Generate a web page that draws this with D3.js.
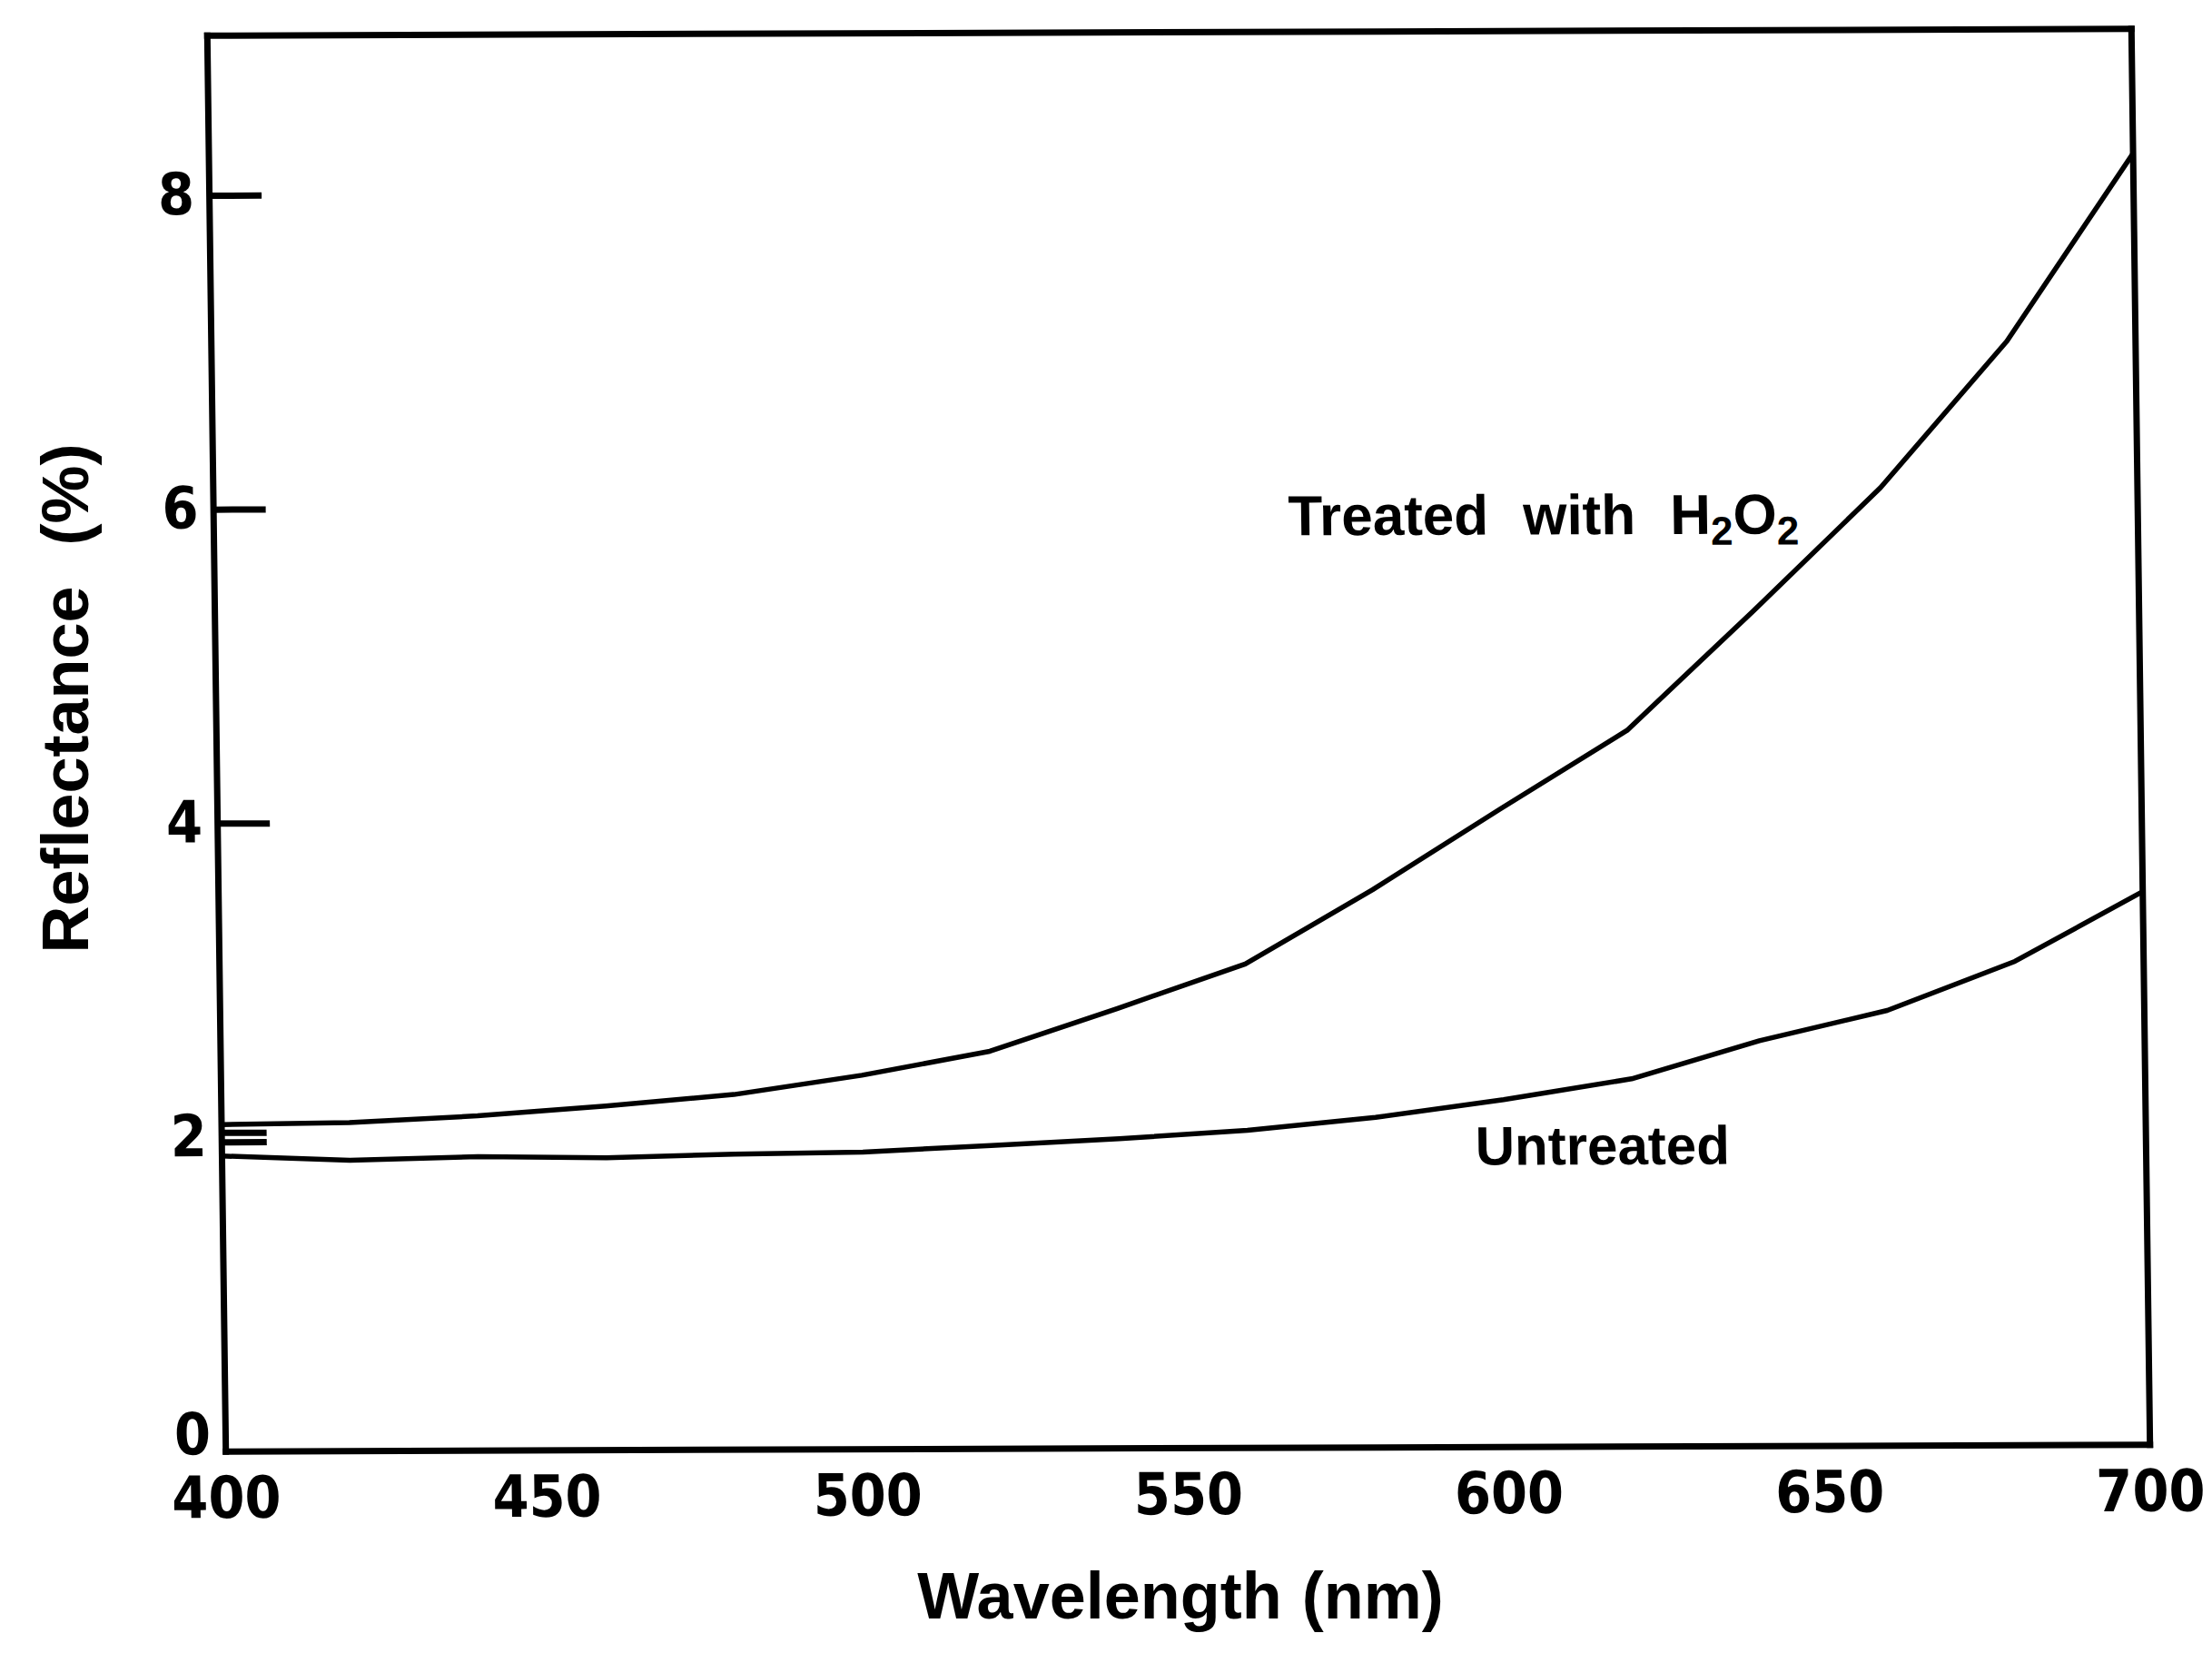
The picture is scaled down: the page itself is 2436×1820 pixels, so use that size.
<!DOCTYPE html>
<html>
<head>
<meta charset="utf-8">
<script src="https://cdn.jsdelivr.net/npm/d3@7"></script>
<style>
  html, body { margin: 0; padding: 0; background: #fff; }
  svg { display: block; }
  .tick text {
    font-family: "Liberation Sans Narrow", "DejaVu Sans Condensed", "Liberation Sans", sans-serif;
    font-weight: bold;
    fill: #000;
  }
  .label {
    font-family: "Liberation Sans", Arial, sans-serif;
    font-weight: bold;
    fill: #000;
  }
</style>
</head>
<body>
<div id="chart"></div>
<script>
// wavelength (nm) of each reading
const wavelengths = [400, 420, 440, 460, 480, 500, 520, 540, 560, 580, 600, 620, 640, 660, 680, 700];
// reflectance (%)
const treatedH2O2 = [2.08, 2.09, 2.13, 2.19, 2.26, 2.38, 2.53, 2.80, 3.08, 3.55, 4.06, 4.56, 5.32, 6.10, 7.03, 8.22];
const untreated   = [1.88, 1.85, 1.87, 1.86, 1.88, 1.89, 1.93, 1.97, 2.02, 2.10, 2.21, 2.34, 2.58, 2.77, 3.08, 3.52];

const xTickValues = [400, 450, 500, 550, 600, 650, 700];
const yTickValues = [0, 2, 4, 6, 8];

const width = 2436;
const height = 1820;
const plot = { left: 238, right: 2357, top: 35, bottom: 1594 };

const svg = d3.select('#chart').append('svg')
  .attr('width', width)
  .attr('height', height);

svg.append('rect')
  .attr('width', width)
  .attr('height', height)
  .attr('fill', '#fff');

const x = d3.scaleLinear().domain([400, 700]).range([plot.left, plot.right]);
const y = d3.scaleLinear().domain([0, 9.02]).range([plot.bottom, plot.top]);

// the scanned figure sits a little askew
const cx = (plot.left + plot.right) / 2;
const cy = (plot.top + plot.bottom) / 2;
const g = svg.append('g')
  .attr('transform', `translate(${cx},${cy}) rotate(-0.2) skewX(0.55) translate(${-cx},${-cy})`);

function styleAxis(sel) {
  sel.select('.domain')
    .attr('stroke', '#000')
    .attr('stroke-width', 7)
    .attr('stroke-linecap', 'square');
  sel.selectAll('.tick line')
    .attr('stroke', '#000')
    .attr('stroke-width', 7);
}

// bottom axis
g.append('g')
  .attr('transform', `translate(0,${plot.bottom})`)
  .call(d3.axisBottom(x).tickValues(xTickValues).tickSize(0).tickSizeOuter(0).tickPadding(28))
  .call(styleAxis)
  .call(a => a.selectAll('.tick text').attr('font-size', 64));

// left axis
g.append('g')
  .attr('transform', `translate(${plot.left},0)`)
  .call(d3.axisLeft(y).tickValues(yTickValues).tickSize(-58).tickSizeOuter(0).tickPadding(16).tickFormat(d3.format('d')))
  .call(styleAxis)
  .call(a => a.selectAll('.tick text').attr('font-size', 64))
  .call(a => a.selectAll('.tick').filter(d => d === 0 || d === 2).select('line').remove())
  .call(a => a.selectAll('.tick').filter(d => d === 0).select('text').attr('dy', '0.05em'));

// doubled tick at 2
g.append('g')
  .attr('transform', `translate(${plot.left},0)`)
  .call(d3.axisLeft(y).tickValues([1.97, 2.03]).tickSize(-50).tickSizeOuter(0).tickFormat(''))
  .call(styleAxis)
  .call(a => a.select('.domain').remove());

// frame: top and right
g.append('g')
  .attr('transform', `translate(0,${plot.top})`)
  .call(d3.axisTop(x).tickValues([]).tickSizeOuter(0))
  .call(styleAxis);

g.append('g')
  .attr('transform', `translate(${plot.right},0)`)
  .call(d3.axisRight(y).tickValues([]).tickSizeOuter(0))
  .call(styleAxis);

// curves
const line = d3.line()
  .x(d => x(d[0]))
  .y(d => y(d[1]))
  .curve(d3.curveLinear);

[treatedH2O2, untreated].forEach(series => {
  g.append('path')
    .datum(wavelengths.map((w, i) => [w, series[i]]))
    .attr('fill', 'none')
    .attr('stroke', '#000')
    .attr('stroke-width', 5.5)
    .attr('stroke-linejoin', 'round')
    .attr('d', line);
});

// curve labels
const treatedLabel = g.append('text')
  .attr('class', 'label')
  .attr('x', x(567.6))
  .attr('y', y(5.81))
  .attr('font-size', 62);
treatedLabel.append('tspan').text('Treated');
treatedLabel.append('tspan').attr('dx', 38).text('with');
treatedLabel.append('tspan').attr('dx', 38).text('H');
treatedLabel.append('tspan').attr('dy', 12).attr('font-size', 44).text('2');
treatedLabel.append('tspan').attr('dy', -12).text('O');
treatedLabel.append('tspan').attr('dy', 12).attr('font-size', 44).text('2');

g.append('text')
  .attr('class', 'label')
  .attr('x', x(595.5))
  .attr('y', y(1.795))
  .attr('font-size', 60)
  .text('Untreated');

// axis titles
const xTitle = svg.append('text')
  .attr('class', 'label')
  .attr('x', 1300)
  .attr('y', 1782)
  .attr('text-anchor', 'middle')
  .attr('font-size', 72);
xTitle.append('tspan').text('Wavelength');
xTitle.append('tspan').attr('dx', 22).text('(nm)');

const yTitle = svg.append('text')
  .attr('class', 'label')
  .attr('transform', 'translate(97,769) rotate(-90)')
  .attr('text-anchor', 'middle')
  .attr('font-size', 72);
yTitle.append('tspan').text('Reflectance');
yTitle.append('tspan').attr('dx', 45).text('(%)');
</script>
</body>
</html>
